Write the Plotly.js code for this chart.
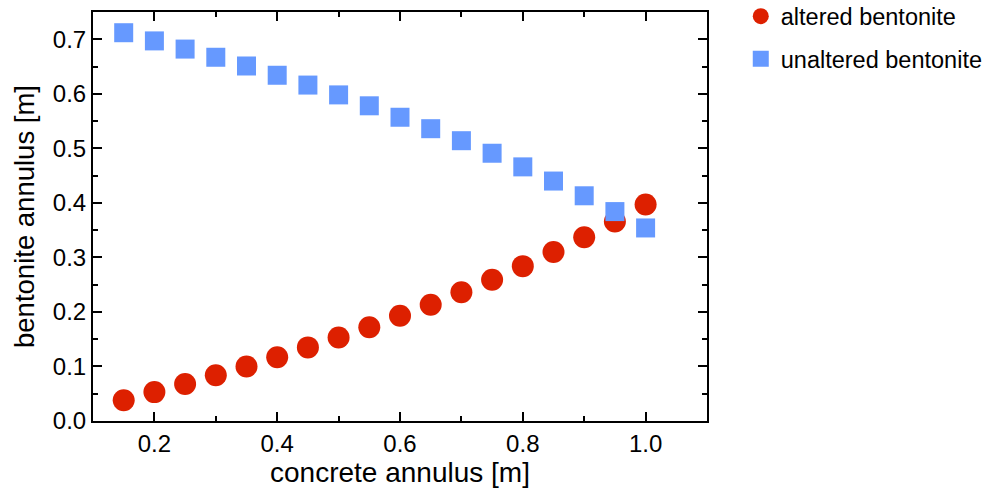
<!DOCTYPE html>
<html><head><meta charset="utf-8">
<script src="https://cdn.plot.ly/plotly-3.0.1.min.js"></script>
<style>body{margin:0}#c{width:1000px;height:493px}</style>
</head><body><div id="c"></div>
<script>
const concreteAnnulus = [0.15,0.20,0.25,0.30,0.35,0.40,0.45,0.50,0.55,0.60,0.65,0.70,0.75,0.80,0.85,0.90,0.95,1.00];
const alteredBentonite = [0.038,0.053,0.068,0.084,0.100,0.117,0.135,0.153,0.172,0.193,0.213,0.236,0.259,0.284,0.310,0.337,0.366,0.397];
const unalteredBentonite = [0.712,0.697,0.682,0.667,0.651,0.634,0.616,0.598,0.578,0.557,0.536,0.514,0.491,0.466,0.440,0.413,0.384,0.354];
const seriesNames = ["altered bentonite","unaltered bentonite"];

const font = "Liberation Sans, Arial, Helvetica, sans-serif";
const traces = [
  {x: concreteAnnulus, y: alteredBentonite, name: seriesNames[0], type:"scatter", mode:"markers",
   legendgroup:"a",
   marker:{symbol:"circle", size:22, color:"#dd2000", line:{width:0}}},
  {x: concreteAnnulus, y: unalteredBentonite, name: seriesNames[1], type:"scatter", mode:"markers",
   legendgroup:"b",
   marker:{symbol:"square", size:19, color:"#6699ff", line:{width:0}}}
];
const axisCommon = {
  showgrid:false, zeroline:false, showline:true, linecolor:"#000", linewidth:2,
  mirror:"allticks", ticks:"inside", ticklen:9, tickwidth:2, tickcolor:"#000",
  tickfont:{family:font, size:24, color:"#000"},
};
const layout = {
  width:1000, height:493,
  margin:{l:93, r:293, t:12, b:72, autoexpand:false},
  paper_bgcolor:"#fff", plot_bgcolor:"#fff",
  font:{family:font, color:"#000"},
  xaxis: Object.assign({}, axisCommon, {
    range:[0.1,1.1], tickvals:[0.2,0.4,0.6,0.8,1.0], ticktext:["0.2","0.4","0.6","0.8","1.0"],
    minor:{dtick:0.1, tick0:0.1, ticklen:5, tickwidth:2, tickcolor:"#000", ticks:"inside"},
    title:{text:"concrete annulus [m]", font:{family:font, size:28, color:"#000"}, standoff:0}
  }),
  yaxis: Object.assign({}, axisCommon, {
    range:[0,0.75], dtick:0.1, tick0:0, tickformat:".1f",
    minor:{dtick:0.05, tick0:0, ticklen:5, tickwidth:2, tickcolor:"#000", ticks:"inside"},
    title:{text:"bentonite annulus [m]", font:{family:font, size:27.5, color:"#000"}, standoff:10}
  }),
  showlegend:true,
  legend:{x:1.055, y:1.043, xanchor:"left", yanchor:"top", font:{family:font, size:23.5, color:"#000"},
    traceorder:"grouped", tracegroupgap:9, bgcolor:"rgba(0,0,0,0)", itemwidth:30}
};
Plotly.newPlot("c", traces, layout, {displayModeBar:false, staticPlot:true});
</script></body></html>
